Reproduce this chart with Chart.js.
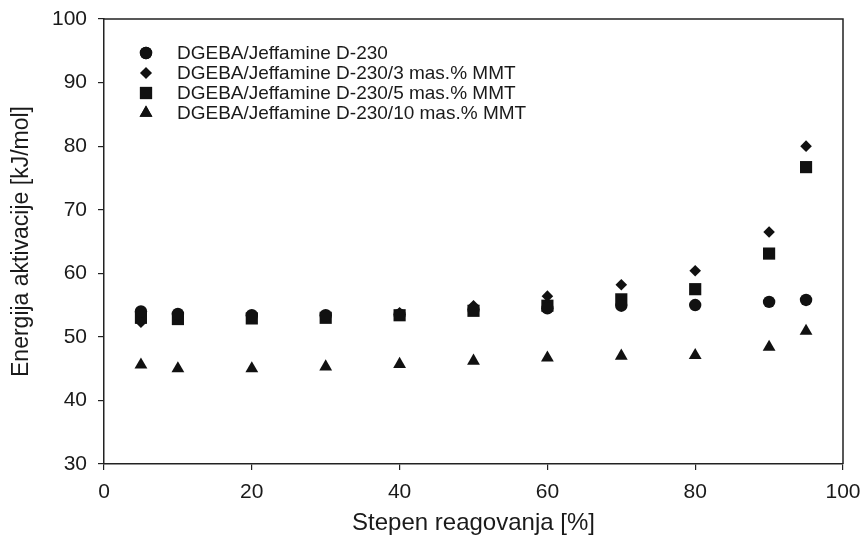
<!DOCTYPE html>
<html>
<head>
<meta charset="utf-8">
<script src="https://cdn.jsdelivr.net/npm/chart.js@4.4.1/dist/chart.umd.min.js"></script>
<style>
  html, body { margin: 0; padding: 0; background: #fff; }
  #wrap { width: 862px; height: 535px; position: relative; }
</style>
</head>
<body>
<div id="wrap"><canvas id="actChart"></canvas></div>
<script>
// Conversion degree [%] and activation energy [kJ/mol] per sample
const conversion = [5, 10, 20, 30, 40, 50, 60, 70, 80, 90, 95];
const neat = [54.0, 53.6, 53.4, 53.4, 53.5, 54.3, 54.5, 54.9, 55.0, 55.5, 55.8];
const mmt3 = [52.3, 53.3, 53.2, 53.3, 53.8, 54.9, 56.4, 58.2, 60.4, 66.5, 80.0];
const mmt5 = [53.0, 52.8, 52.9, 53.0, 53.4, 54.1, 54.9, 55.9, 57.5, 63.1, 76.7];
const mmt10 = [45.6, 45.0, 45.0, 45.3, 45.7, 46.2, 46.7, 47.0, 47.1, 48.4, 50.9];

const seriesLabels = [
    'DGEBA/Jeffamine D-230',
    'DGEBA/Jeffamine D-230/3 mas.% MMT',
    'DGEBA/Jeffamine D-230/5 mas.% MMT',
    'DGEBA/Jeffamine D-230/10 mas.% MMT'
];
const xTicks = [0, 20, 40, 60, 80, 100];
const yTicks = [30, 40, 50, 60, 70, 80, 90, 100];

const ink = '#111';
const textColor = '#1a1a1a';
const fontFamily = 'Arial, "Liberation Sans", sans-serif';

const toPoints = (ys) => ys.map((y, i) => ({ x: conversion[i], y: y }));

function makeSet(label, ys, style, radius) {
    return {
        label: label,
        data: toPoints(ys),
        pointStyle: style,
        pointRadius: radius,
        pointHoverRadius: radius,
        backgroundColor: ink,
        borderColor: ink,
        borderWidth: 0,
        showLine: false
    };
}

const styles = ['circle', 'rectRot', 'rect', 'triangle'];
const radii = [6.2, 5.8, 8.6, 7.4];

// Frame on top/right plus a hand-drawn legend inside the plot
const framePlugin = {
    id: 'frameAndLegend',
    afterDatasetsDraw(chart) {
        const { ctx, chartArea: a } = chart;
        ctx.save();
        ctx.strokeStyle = '#222';
        ctx.lineWidth = 1.5;
        ctx.beginPath();
        ctx.moveTo(a.left, a.top);
        ctx.lineTo(a.right, a.top);
        ctx.lineTo(a.right, a.bottom);
        ctx.stroke();

        ctx.font = '19px ' + fontFamily;
        ctx.textBaseline = 'middle';
        ctx.textAlign = 'left';
        const rowY = [53, 73, 93, 113];
        seriesLabels.forEach((lbl, i) => {
            ctx.fillStyle = ink;
            ctx.strokeStyle = ink;
            Chart.helpers.drawPoint(ctx, {
                pointStyle: styles[i],
                radius: radii[i],
                rotation: 0,
                borderWidth: 0
            }, 146, rowY[i]);
            ctx.fill();
            ctx.fillStyle = textColor;
            ctx.fillText(lbl, 177, rowY[i] + 1);
        });
        ctx.restore();
    }
};

const ctx = document.getElementById('actChart').getContext('2d');

const actChart = new Chart(ctx, {
    type: 'scatter',
    data: {
        datasets: [
            makeSet(seriesLabels[0], neat, styles[0], radii[0]),
            makeSet(seriesLabels[1], mmt3, styles[1], radii[1]),
            makeSet(seriesLabels[2], mmt5, styles[2], radii[2]),
            makeSet(seriesLabels[3], mmt10, styles[3], radii[3])
        ]
    },
    options: {
        responsive: true,
        maintainAspectRatio: false,
        animation: false,
        layout: {
            padding: { top: 19, right: 19, left: 0, bottom: 0 }
        },
        plugins: {
            legend: { display: false },
            tooltip: { enabled: false }
        },
        scales: {
            x: {
                type: 'linear',
                min: 0,
                max: 100,
                afterBuildTicks: (scale) => { scale.ticks = xTicks.map(v => ({ value: v })); },
                afterFit: (scale) => {
                    scale.height = 71;
                    scale.paddingLeft = 0;
                    scale.paddingRight = 0;
                },
                ticks: {
                    color: textColor,
                    padding: 10,
                    maxRotation: 0,
                    font: { size: 21, family: fontFamily }
                },
                grid: {
                    drawOnChartArea: false,
                    drawTicks: true,
                    tickLength: 6,
                    color: '#222',
                    lineWidth: 1.2
                },
                border: { display: true, color: '#222', width: 1.5 },
                title: {
                    display: true,
                    text: 'Stepen reagovanja [%]',
                    color: textColor,
                    font: { size: 24, family: fontFamily, lineHeight: 1 },
                    padding: { top: 0, bottom: 0 }
                }
            },
            y: {
                type: 'linear',
                min: 30,
                max: 100,
                afterBuildTicks: (scale) => { scale.ticks = yTicks.map(v => ({ value: v })); },
                afterFit: (scale) => {
                    scale.width = 104;
                    scale.paddingTop = 0;
                    scale.paddingBottom = 0;
                },
                ticks: {
                    color: textColor,
                    padding: 11,
                    font: { size: 21, family: fontFamily }
                },
                grid: {
                    drawOnChartArea: false,
                    drawTicks: true,
                    tickLength: 6,
                    color: '#222',
                    lineWidth: 1.2
                },
                border: { display: true, color: '#222', width: 1.5 },
                title: {
                    display: true,
                    text: 'Energija aktivacije [kJ/mol]',
                    color: textColor,
                    font: { size: 23, family: fontFamily, lineHeight: 1 },
                    padding: { top: 10.5, bottom: 0 }
                }
            }
        }
    },
    plugins: [framePlugin]
});
</script>
</body>
</html>
